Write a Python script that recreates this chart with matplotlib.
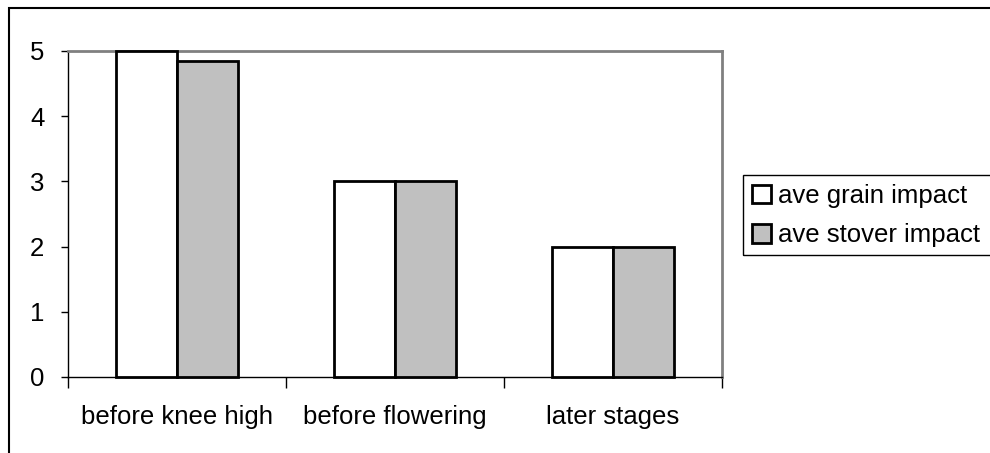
import numpy as np
import matplotlib.pyplot as plt
from matplotlib.patches import Rectangle

plt.rcParams['font.family'] = ['Liberation Sans', 'DejaVu Sans']

categories = ['before knee high', 'before flowering', 'later stages']
grain = [5, 3, 2]
stover = [4.85, 3, 2]
series_names = ['ave grain impact', 'ave stover impact']

W, H = 990, 453
fig = plt.figure(figsize=(W / 100, H / 100), dpi=100)
ax = fig.add_axes([68 / W, 1 - 377 / H, (722 - 68) / W, (377 - 51) / H])

x = np.arange(len(categories))
bw = 0.28
ax.bar(x - bw / 2, grain, bw, color='white', edgecolor='black', linewidth=2,
       label=series_names[0], clip_on=False, zorder=3)
ax.bar(x + bw / 2, stover, bw, color='#c0c0c0', edgecolor='black', linewidth=2,
       label=series_names[1], clip_on=False, zorder=3)

ax.set_xlim(-0.5, len(categories) - 0.5)
ax.set_ylim(0, 5)
ax.set_yticks(range(6))
ax.tick_params(axis='y', labelsize=18.5, length=5, width=1, direction='out', pad=12)

# category boundaries as ticks, labels in the middle
ax.set_xticks(np.arange(len(categories) + 1) - 0.5)
ax.set_xticklabels([])
ax.set_xticks(x, minor=True)
ax.set_xticklabels(categories, minor=True, fontsize=18.5)
ax.tick_params(axis='x', which='major', length=8, width=1, direction='out')
ax.tick_params(axis='x', which='minor', length=0, pad=20)

for s in ['top', 'right']:
    ax.spines[s].set_color('#808080')
    ax.spines[s].set_linewidth(2)
for s in ['left', 'bottom']:
    ax.spines[s].set_color('black')
    ax.spines[s].set_linewidth(1)

leg = fig.legend(loc='upper left', bbox_to_anchor=(743 / W, 1 - 175 / H),
                 fontsize=18.5, frameon=False, handlelength=0.75,
                 handleheight=0.75, handletextpad=0.25, borderpad=0.35,
                 labelspacing=0.6, borderaxespad=0)

# legend box, runs off the right edge like the original
fig.patches.append(Rectangle((743 / W, 1 - 255 / H), 0.5, 80 / H,
                             transform=fig.transFigure, fill=False,
                             edgecolor='black', linewidth=1))

# outer chart border
fig.patches.append(Rectangle((9 / W, -0.1), 1.1, 1 - 8 / H + 0.1,
                             transform=fig.transFigure, fill=False,
                             edgecolor='black', linewidth=1.5))

fig.savefig('out.png', dpi=100)
